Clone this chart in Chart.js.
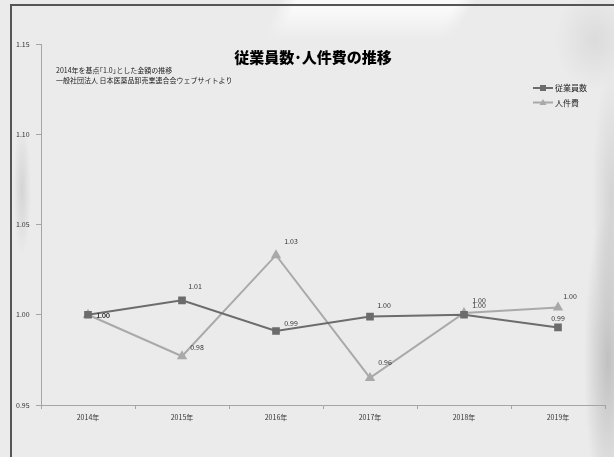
<!DOCTYPE html>
<html>
<head>
  <meta charset="utf-8">
  <script src="https://cdn.jsdelivr.net/npm/chart.js"></script>
  <title>従業員数・人件費の推移</title>
  <style>
    html, body { margin: 0; padding: 0; }
    body {
      width: 614px; height: 457px; overflow: hidden; position: relative;
      background:
        radial-gradient(ellipse 24px 150px at 608px 360px, rgba(140,140,140,0.45), rgba(140,140,140,0) 100%),
        radial-gradient(ellipse 20px 130px at 612px 200px, rgba(175,175,175,0.4), rgba(175,175,175,0) 100%),
        radial-gradient(ellipse 40px 50px at 595px 40px, rgba(190,190,190,0.35), rgba(190,190,190,0) 100%),
        radial-gradient(ellipse 9px 65px at 22px 190px, rgba(185,185,185,0.45), rgba(185,185,185,0) 100%),
        #ebebeb;
    }
    #sheen {
      position: absolute; left: 0; top: 0; width: 614px; height: 40px;
      background: linear-gradient(118deg, rgba(255,255,255,0) 44%, rgba(255,255,255,0.75) 47%, rgba(255,255,255,0.75) 72%, rgba(255,255,255,0) 75%);
      -webkit-mask-image: linear-gradient(to bottom, #000 0%, #000 20%, transparent 100%);
      mask-image: linear-gradient(to bottom, #000 0%, #000 20%, transparent 100%);
    }
    #frame {
      position: absolute; left: 10px; top: 4px; right: -4px; bottom: -4px;
      border-left: 2px solid #555; border-top: 2px solid #555;
    }
    #wrap { position: absolute; left: 0; top: 0; width: 614px; height: 457px; }
  </style>
</head>
<body>
  <div id="sheen"></div>
  <div id="frame"></div>
  <div id="wrap"><canvas id="laborChart" width="614" height="457"></canvas></div>

  <script>
    // 2014年を1.0とした指数
    const years = ['2014年', '2015年', '2016年', '2017年', '2018年', '2019年'];
    const employees = [1.000, 1.008, 0.991, 0.999, 1.000, 0.993];
    const laborCost = [1.000, 0.977, 1.033, 0.965, 1.001, 1.004];
    const yTicks = [0.95, 1.00, 1.05, 1.10, 1.15];

    const titleText = '従業員数･人件費の推移';
    const noteLines = ['2014年を基点｢1.0｣とした金額の推移', '一般社団法人 日本医薬品卸売業連合会ウェブサイトより'];

    const FONT = '"Noto Sans CJK JP", "Noto Sans", sans-serif';

    // value labels next to each point; per-point nudges keep them off the lines
    const valueLabels = {
      id: 'valueLabels',
      afterDatasetsDraw(chart) {
        const ctx = chart.ctx;
        ctx.save();
        ctx.font = '7px ' + FONT;
        ctx.fillStyle = '#333';
        ctx.textAlign = 'center';
        ctx.textBaseline = 'middle';
        chart.data.datasets.forEach((ds, i) => {
          chart.getDatasetMeta(i).data.forEach((pt, j) => {
            const off = ds.labelOffsets[j];
            ctx.fillText(ds.data[j].toFixed(2), pt.x + off[0], pt.y + off[1]);
          });
        });
        ctx.restore();
      }
    };

    // title, source note and legend
    const decorations = {
      id: 'decorations',
      afterDraw(chart) {
        const ctx = chart.ctx;
        ctx.save();
        ctx.fillStyle = '#000';
        ctx.textBaseline = 'middle';
        ctx.textAlign = 'center';
        ctx.font = '900 15px ' + FONT;
        ctx.fillText(titleText, 313, 57);

        ctx.textAlign = 'left';
        ctx.font = '7px ' + FONT;
        ctx.fillStyle = '#222';
        noteLines.forEach((t, i) => ctx.fillText(t, 56, 70 + i * 10.5));

        chart.data.datasets.forEach((ds, i) => {
          const y = 88 + i * 14.5;
          ctx.strokeStyle = ds.borderColor;
          ctx.lineWidth = 2;
          ctx.beginPath();
          ctx.moveTo(533, y);
          ctx.lineTo(553, y);
          ctx.stroke();
          ctx.fillStyle = ds.borderColor;
          ctx.beginPath();
          if (ds.pointStyle === 'rect') {
            ctx.rect(540, y - 3, 6, 6);
          } else {
            ctx.moveTo(543, y - 3.5);
            ctx.lineTo(546.5, y + 2.5);
            ctx.lineTo(539.5, y + 2.5);
            ctx.closePath();
          }
          ctx.fill();
          ctx.fillStyle = '#222';
          ctx.font = '8px ' + FONT;
          ctx.fillText(ds.label, 555, y);
        });
        ctx.restore();
      }
    };

    const ctx = document.getElementById('laborChart').getContext('2d');
    new Chart(ctx, {
      type: 'line',
      data: {
        labels: years,
        datasets: [{
          label: '従業員数',
          data: employees,
          borderColor: '#6c6c6c',
          backgroundColor: '#6c6c6c',
          borderWidth: 2,
          pointStyle: 'rect',
          pointRadius: 4,
          tension: 0,
          labelOffsets: [[15, 1], [13, -14], [15, -8], [14, -11], [15, -9], [0, -9]]
        }, {
          label: '人件費',
          data: laborCost,
          borderColor: '#a9a9a9',
          backgroundColor: '#a9a9a9',
          borderWidth: 2,
          pointStyle: 'triangle',
          pointRadius: 4,
          tension: 0,
          labelOffsets: [[15, 1], [15, -9], [15, -14], [15, -16], [15, -13], [12, -11]]
        }]
      },
      options: {
        responsive: false,
        animation: false,
        layout: { padding: { left: 16, right: 9, top: 44, bottom: 30 } },
        plugins: { legend: { display: false }, tooltip: { enabled: false } },
        scales: {
          x: {
            offset: true,
            grid: { offset: true, drawOnChartArea: false, tickLength: 4, color: '#a5a5a5' },
            border: { color: '#a5a5a5', width: 1 },
            ticks: { color: '#333', font: { size: 7, family: FONT }, padding: 4, maxRotation: 0 },
            afterFit(scale) { scale.height = 22; }
          },
          y: {
            min: 0.95,
            max: 1.15,
            afterBuildTicks(scale) { scale.ticks = yTicks.map(v => ({ value: v })); },
            grid: { drawOnChartArea: false, tickLength: 5, color: '#a5a5a5' },
            border: { color: '#a5a5a5', width: 1 },
            ticks: {
              color: '#333',
              font: { size: 7, family: FONT },
              crossAlign: 'far',
              callback: v => Number(v).toFixed(2)
            },
            afterFit(scale) { scale.width = 25; }
          }
        }
      },
      plugins: [valueLabels, decorations]
    });
  </script>
</body>
</html>
